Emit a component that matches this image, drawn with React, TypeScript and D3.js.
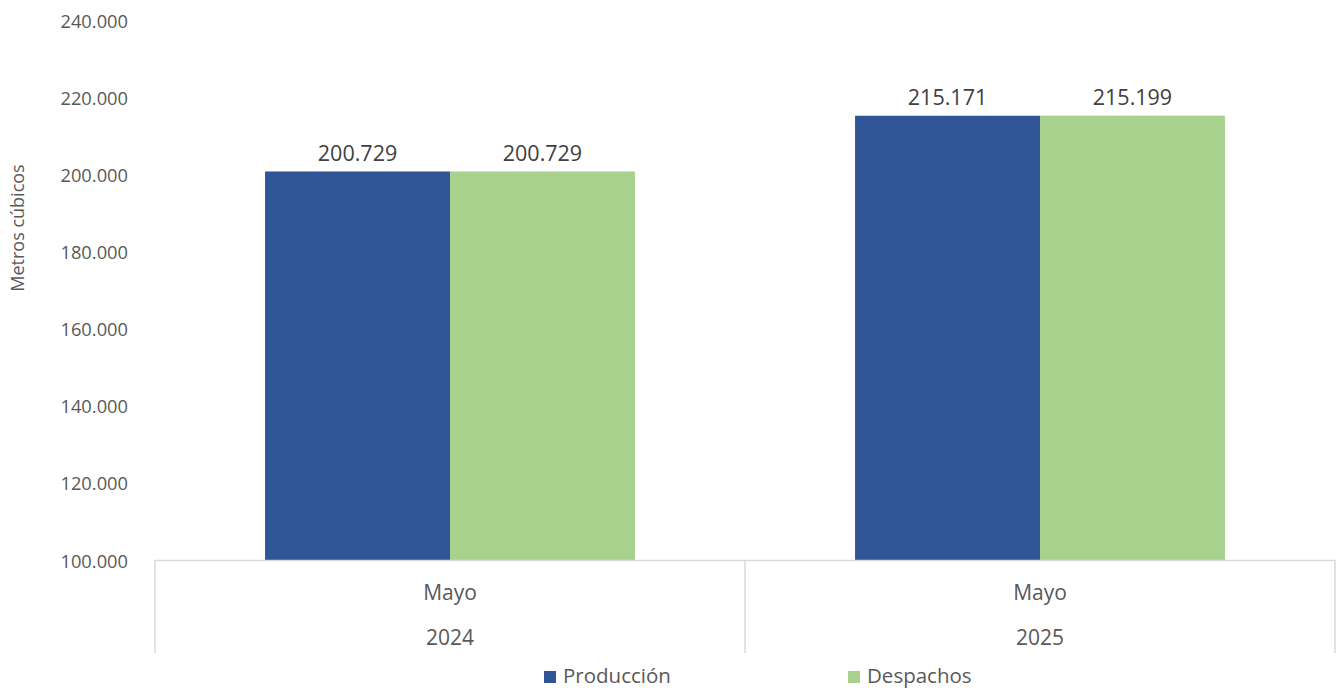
import React from "react";
import * as d3 from "d3";

const years = ["2024", "2025"];
const months = ["Mayo", "Mayo"];
const series = ["Producción", "Despachos"];
const produccion = [200729, 215171];
const despachos = [200729, 215199];
const yTicks = [100000, 120000, 140000, 160000, 180000, 200000, 220000, 240000];
const colors = ["#2F5597", "#A9D18E"];

const W = 1336;
const H = 689;
const FONT = "'Open Sans', 'Noto Sans', sans-serif";

const locale = d3.formatLocale({ decimal: ",", thousands: ".", grouping: [3], currency: ["", ""] });
const fmt = locale.format(",d");

export default function App() {
  const left = 155;
  const right = 1335;
  const top = 20;
  const bottom = 560;
  const axisBottom = 653;

  const y = d3.scaleLinear().domain([100000, 240000]).range([bottom, top]);
  const x0 = d3.scaleBand<string>().domain(years).range([left, right]).paddingInner(0).paddingOuter(0);
  const x1 = d3
    .scaleBand<string>()
    .domain(series)
    .range([0, x0.bandwidth()])
    .paddingInner(0)
    .paddingOuter(0.595);

  const values = [produccion, despachos];

  const sepXs = [left, ...years.slice(1).map((yr) => x0(yr) as number), right];

  return (
    <svg width={W} height={H} style={{ position: "absolute", left: 0, top: 0, background: "#fff" }} fontFamily={FONT}>
      {/* y tick labels */}
      {yTicks.map((t) => (
        <text key={t} x={128} y={y(t)} textAnchor="end" dominantBaseline="central" fontSize={18.3} fill="#595959">
          {fmt(t)}
        </text>
      ))}
      {/* y title */}
      <text
        transform={`translate(17, ${228}) rotate(-90)`}
        textAnchor="middle"
        dominantBaseline="central"
        fontSize={18}
        fill="#595959"
      >
        Metros cúbicos
      </text>
      {/* bars */}
      {years.map((yr, i) =>
        series.map((s, j) => {
          const bx = (x0(yr) as number) + (x1(s) as number);
          const v = values[j][i];
          return (
            <g key={yr + s}>
              <rect x={bx} y={y(v)} width={x1.bandwidth()} height={bottom - y(v)} fill={colors[j]} />
              <text
                x={bx + x1.bandwidth() / 2}
                y={y(v) - 19}
                textAnchor="middle"
                dominantBaseline="central"
                fontSize={21.5}
                fill="#404040"
              >
                {fmt(v)}
              </text>
            </g>
          );
        })
      )}
      {/* axis */}
      <line x1={left} x2={right} y1={bottom + 0.5} y2={bottom + 0.5} stroke="#d9d9d9" strokeWidth={1.5} />
      {sepXs.map((sx, i) => (
        <line key={i} x1={sx} x2={sx} y1={bottom} y2={axisBottom} stroke="#d9d9d9" strokeWidth={1.5} />
      ))}
      {years.map((yr, i) => {
        const cx = (x0(yr) as number) + x0.bandwidth() / 2;
        return (
          <g key={yr}>
            <text x={cx} y={592} textAnchor="middle" dominantBaseline="central" fontSize={21} fill="#595959">
              {months[i]}
            </text>
            <text x={cx} y={637} textAnchor="middle" dominantBaseline="central" fontSize={21} fill="#595959">
              {yr}
            </text>
          </g>
        );
      })}
      {/* legend */}
      {series.map((s, j) => {
        const lx = [544, 848][j];
        return (
          <g key={s}>
            <rect x={lx} y={671} width={12} height={12} fill={colors[j]} />
            <text x={lx + 19} y={675} dominantBaseline="central" fontSize={20.5} fill="#595959">
              {s}
            </text>
          </g>
        );
      })}
    </svg>
  );
}
